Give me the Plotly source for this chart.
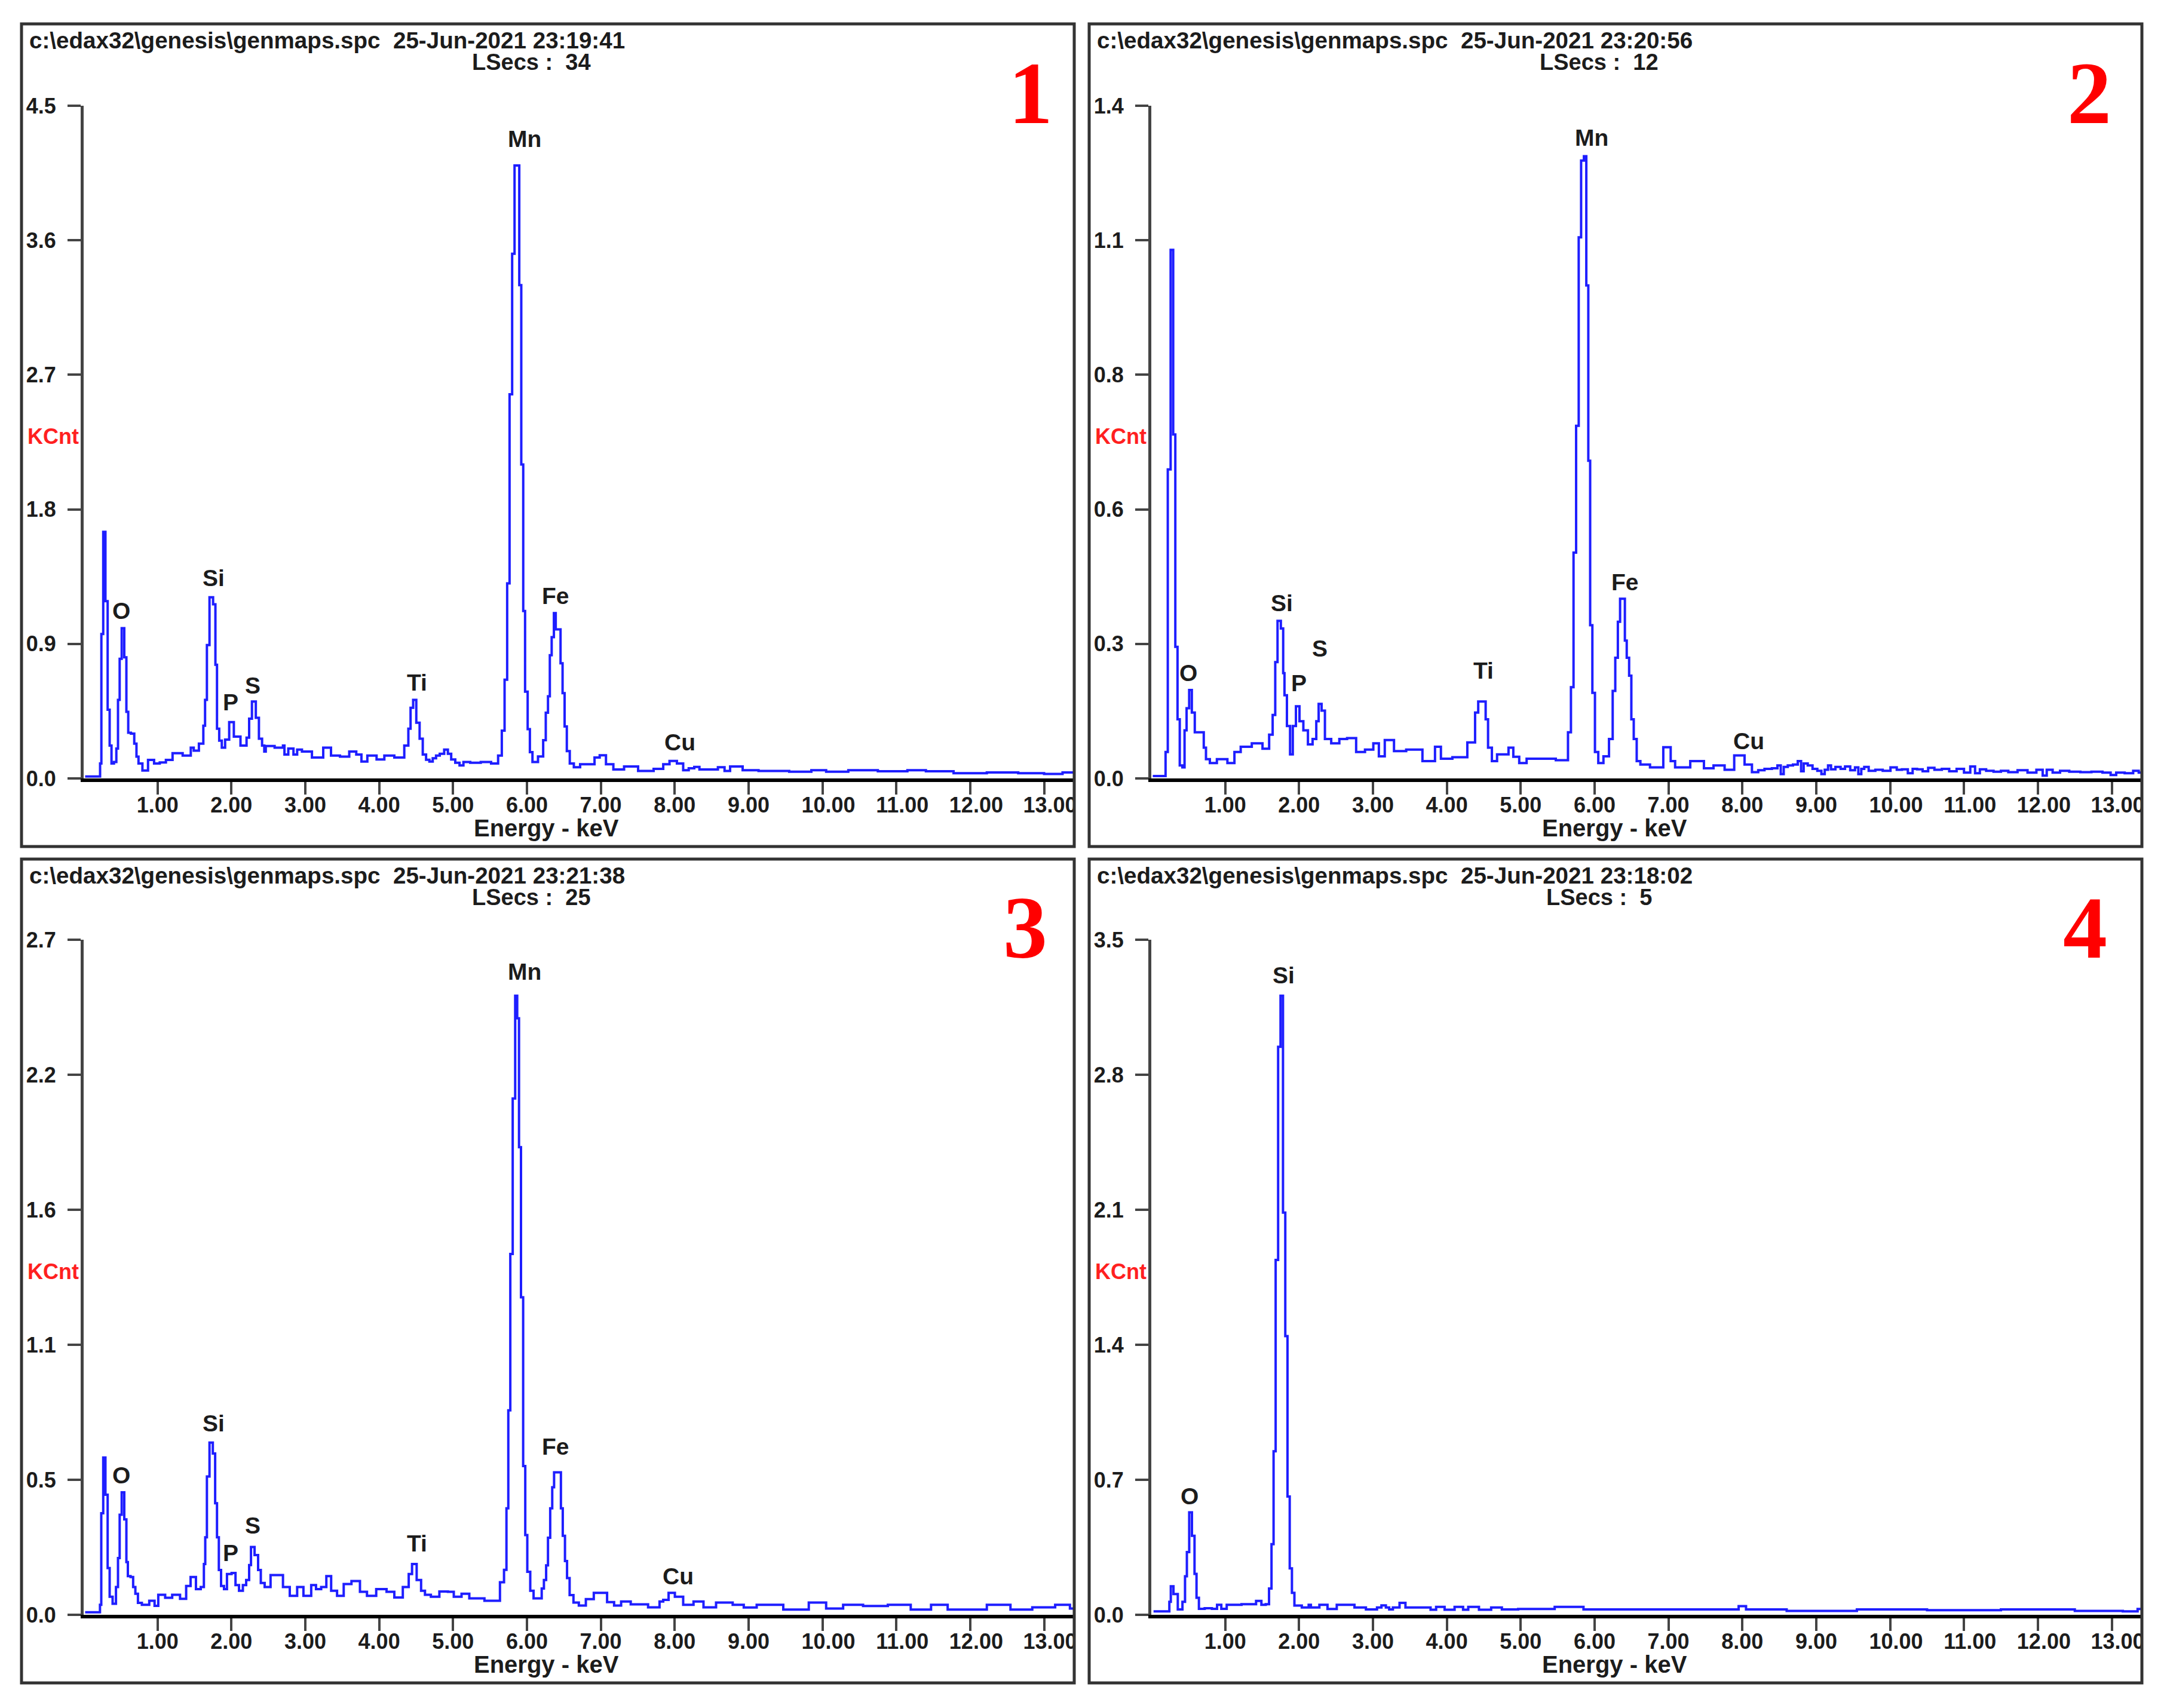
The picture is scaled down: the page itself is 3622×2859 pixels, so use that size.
"""EDS spectra of four map regions (EDAX Genesis screenshots) as a 2x2 panel figure."""

import plotly.graph_objects as go

WIDTH, HEIGHT = 3622, 2859

# Spectrum 1
kev1 = [0.02, 0.215, 0.23, 0.25, 0.28, 0.31, 0.34, 0.364, 0.39, 0.43, 0.455, 0.475, 0.50, 0.53, 0.57, 0.587,
        0.62, 0.66, 0.71, 0.72, 0.765, 0.826, 0.917, 0.99, 1.07, 1.157, 1.25, 1.43, 1.47, 1.51, 1.61, 1.63,
        1.657, 1.68, 1.727, 1.777, 1.79, 1.82, 1.85, 1.89, 1.94, 2.0, 2.066, 2.18, 2.23, 2.25, 2.306, 2.355,
        2.39, 2.44, 2.45, 2.48, 2.69, 2.706, 2.73, 2.81, 2.87, 2.91, 3.0, 3.18, 3.306, 3.39, 3.55, 3.64,
        3.74, 3.78, 3.9, 4.03, 4.11, 4.3, 4.38, 4.41, 4.44, 4.48, 4.525, 4.57, 4.61, 4.66, 4.70, 4.75,
        4.79, 4.85, 4.91, 4.95, 5.0, 5.06, 5.116, 5.165, 5.3, 5.45, 5.58, 5.64, 5.68, 5.715, 5.75, 5.78,
        5.82, 5.845, 5.886, 5.907, 5.94, 5.96, 5.99, 6.03, 6.05, 6.10, 6.2, 6.24, 6.27, 6.30, 6.32, 6.35,
        6.38, 6.40, 6.445, 6.465, 6.50, 6.52, 6.56, 6.60, 6.67, 6.77, 6.90, 6.93, 7.04, 7.10, 7.24, 7.39,
        7.62, 7.81, 7.88, 7.98, 8.08, 8.15, 8.23, 8.30, 8.37, 8.55, 8.62, 8.73, 8.77, 8.87, 8.97, 9.3,
        9.8, 9.9, 10.2, 10.5, 11.0, 11.3, 11.5, 12.05, 12.4, 12.9, 13.1, 13.4]
counts1 = [0.013, 0.013, 0.10, 0.966, 1.65, 1.186, 0.46, 0.22, 0.10, 0.11, 0.20, 0.526, 0.80, 1.005, 0.81, 0.446,
           0.306, 0.30, 0.233, 0.146, 0.10, 0.053, 0.124, 0.10, 0.107, 0.124, 0.169, 0.153, 0.206, 0.186, 0.233, 0.353,
           0.526, 0.892, 1.212, 1.165, 0.76, 0.333, 0.253, 0.206, 0.26, 0.377, 0.28, 0.22, 0.273, 0.40, 0.515, 0.406,
           0.266, 0.22, 0.18, 0.217, 0.206, 0.22, 0.16, 0.2, 0.16, 0.193, 0.18, 0.14, 0.206, 0.153, 0.146, 0.18,
           0.16, 0.113, 0.153, 0.127, 0.153, 0.14, 0.22, 0.333, 0.473, 0.526, 0.373, 0.266, 0.16, 0.125, 0.113, 0.135,
           0.153, 0.165, 0.193, 0.165, 0.127, 0.105, 0.087, 0.11, 0.105, 0.11, 0.10, 0.153, 0.32, 0.66, 1.305, 2.57,
           3.51, 4.1, 4.1, 3.30, 2.10, 1.12, 0.58, 0.33, 0.176, 0.11, 0.147, 0.256, 0.44, 0.55, 0.824, 0.945,
           1.106, 0.997, 0.997, 0.77, 0.57, 0.348, 0.183, 0.10, 0.075, 0.095, 0.095, 0.14, 0.155, 0.095, 0.06, 0.08,
           0.05, 0.064, 0.095, 0.117, 0.10, 0.055, 0.068, 0.077, 0.06, 0.06, 0.075, 0.05, 0.08, 0.08, 0.055, 0.05,
           0.045, 0.055, 0.045, 0.055, 0.048, 0.055, 0.048, 0.035, 0.04, 0.035, 0.03, 0.04]

# Spectrum 2
kev2 = [0.02, 0.18, 0.206, 0.24, 0.283, 0.31, 0.34, 0.37, 0.40, 0.44, 0.46, 0.495, 0.53, 0.567, 0.61, 0.70,
        0.72, 0.76, 0.825, 0.95, 1.11, 1.14, 1.28, 1.44, 1.57, 1.62, 1.665, 1.69, 1.727, 1.78, 1.79, 1.815,
        1.856, 1.90, 1.93, 1.985, 2.026, 2.09, 2.15, 2.216, 2.25, 2.28, 2.33, 2.37, 2.50, 2.59, 2.71, 2.835,
        2.95, 3.06, 3.10, 3.22, 3.35, 3.55, 3.79, 3.89, 3.95, 4.2, 4.355, 4.41, 4.44, 4.515, 4.536, 4.58,
        4.64, 4.72, 4.8, 4.87, 4.93, 5.03, 5.13, 5.33, 5.62, 5.66, 5.70, 5.73, 5.77, 5.80, 5.835, 5.876,
        5.90, 5.93, 5.95, 5.99, 6.02, 6.08, 6.16, 6.23, 6.26, 6.30, 6.33, 6.36, 6.40, 6.42, 6.45, 6.485,
        6.51, 6.55, 6.59, 6.65, 6.85, 7.01, 7.05, 7.13, 7.46, 7.5, 7.72, 7.8, 7.98, 8.08, 8.18, 8.25,
        8.35, 8.45, 8.5, 8.54, 8.58, 8.65, 8.72, 8.78, 8.81, 8.85, 8.92, 8.98, 9.05, 9.09, 9.14, 9.18,
        9.22, 9.3, 9.36, 9.42, 9.5, 9.55, 9.59, 9.63, 9.67, 9.75, 9.85, 9.95, 10.06, 10.12, 10.2, 10.28,
        10.33, 10.4, 10.48, 10.55, 10.65, 10.75, 10.85, 10.95, 11.05, 11.12, 11.18, 11.25, 11.35, 11.45, 11.55, 11.65,
        11.8, 11.92, 12.04, 12.09, 12.15, 12.25, 12.35, 12.5, 12.65, 12.8, 12.95, 13.02, 13.1, 13.25, 13.33, 13.4]
counts2 = [0.005, 0.005, 0.055, 0.643, 1.10, 0.716, 0.274, 0.123, 0.027, 0.023, 0.10, 0.146, 0.184, 0.137, 0.096, 0.096,
           0.064, 0.04, 0.032, 0.04, 0.032, 0.055, 0.066, 0.073, 0.062, 0.091, 0.132, 0.242, 0.328, 0.312, 0.219, 0.173,
           0.109, 0.05, 0.109, 0.15, 0.119, 0.10, 0.071, 0.082, 0.119, 0.155, 0.141, 0.082, 0.073, 0.082, 0.084, 0.055,
           0.06, 0.073, 0.046, 0.08, 0.057, 0.06, 0.036, 0.066, 0.041, 0.044, 0.075, 0.137, 0.16, 0.16, 0.123, 0.064,
           0.036, 0.05, 0.05, 0.064, 0.045, 0.032, 0.041, 0.041, 0.038, 0.096, 0.19, 0.47, 0.734, 1.126, 1.286, 1.295,
           1.026, 0.661, 0.319, 0.178, 0.055, 0.032, 0.046, 0.082, 0.182, 0.251, 0.326, 0.374, 0.374, 0.287, 0.251, 0.214,
           0.123, 0.082, 0.036, 0.029, 0.023, 0.065, 0.036, 0.023, 0.036, 0.021, 0.027, 0.018, 0.048, 0.029, 0.013, 0.017,
           0.02, 0.021, 0.027, 0.009, 0.024, 0.027, 0.029, 0.036, 0.015, 0.031, 0.027, 0.02, 0.016, 0.009, 0.018, 0.027,
           0.019, 0.024, 0.02, 0.025, 0.017, 0.023, 0.009, 0.02, 0.024, 0.016, 0.018, 0.016, 0.023, 0.018, 0.019, 0.011,
           0.02, 0.019, 0.015, 0.022, 0.018, 0.02, 0.015, 0.02, 0.012, 0.025, 0.011, 0.019, 0.016, 0.014, 0.016, 0.013,
           0.017, 0.012, 0.018, 0.006, 0.018, 0.012, 0.016, 0.014, 0.013, 0.014, 0.012, 0.007, 0.012, 0.011, 0.016, 0.012]

# Spectrum 3
kev3 = [0.02, 0.215, 0.227, 0.25, 0.28, 0.31, 0.34, 0.364, 0.42, 0.455, 0.475, 0.50, 0.53, 0.57, 0.587, 0.61,
        0.66, 0.68, 0.72, 0.75, 0.826, 0.95, 0.97, 1.05, 1.157, 1.24, 1.37, 1.405, 1.49, 1.55, 1.62, 1.635,
        1.657, 1.68, 1.727, 1.77, 1.79, 1.82, 1.84, 1.88, 1.92, 1.96, 2.045, 2.066, 2.14, 2.17, 2.23, 2.25,
        2.28, 2.347, 2.376, 2.42, 2.48, 2.58, 2.686, 2.71, 2.87, 2.91, 3.04, 3.12, 3.17, 3.26, 3.31, 3.39,
        3.47, 3.57, 3.68, 3.80, 3.87, 4.05, 4.15, 4.26, 4.38, 4.42, 4.47, 4.545, 4.59, 4.65, 4.75, 4.88,
        4.98, 5.04, 5.19, 5.25, 5.6, 5.67, 5.71, 5.736, 5.76, 5.79, 5.825, 5.857, 5.88, 5.906, 5.933, 5.965,
        5.99, 6.02, 6.07, 6.11, 6.19, 6.21, 6.25, 6.27, 6.30, 6.33, 6.355, 6.38, 6.45, 6.47, 6.50, 6.53,
        6.556, 6.60, 6.66, 6.745, 6.85, 6.96, 7.05, 7.12, 7.24, 7.31, 7.5, 7.78, 7.81, 7.88, 7.955, 8.05,
        8.18, 8.33, 8.45, 8.67, 8.9, 8.97, 9.25, 9.69, 9.94, 10.16, 10.4, 10.7, 11.07, 11.32, 11.62, 11.77,
        12.04, 12.41, 12.68, 13.0, 13.3, 13.4]
counts3 = [0.01, 0.01, 0.04, 0.406, 0.629, 0.48, 0.187, 0.072, 0.044, 0.111, 0.227, 0.40, 0.49, 0.382, 0.211, 0.155,
           0.151, 0.111, 0.084, 0.048, 0.04, 0.056, 0.036, 0.08, 0.068, 0.08, 0.064, 0.115, 0.151, 0.103, 0.111, 0.203,
           0.31, 0.553, 0.689, 0.645, 0.446, 0.31, 0.179, 0.115, 0.103, 0.163, 0.167, 0.119, 0.096, 0.119, 0.139, 0.199,
           0.271, 0.239, 0.179, 0.127, 0.111, 0.159, 0.159, 0.111, 0.076, 0.111, 0.076, 0.119, 0.103, 0.111, 0.155, 0.096,
           0.076, 0.123, 0.135, 0.092, 0.076, 0.103, 0.092, 0.069, 0.111, 0.163, 0.203, 0.139, 0.096, 0.08, 0.072, 0.093,
           0.092, 0.072, 0.084, 0.066, 0.056, 0.13, 0.18, 0.426, 0.818, 1.443, 2.065, 2.476, 2.386, 1.87, 1.27, 0.595,
           0.319, 0.172, 0.096, 0.066, 0.066, 0.105, 0.139, 0.198, 0.308, 0.426, 0.51, 0.57, 0.57, 0.426, 0.316, 0.215,
           0.147, 0.079, 0.049, 0.037, 0.063, 0.088, 0.088, 0.051, 0.037, 0.053, 0.042, 0.03, 0.053, 0.06, 0.088, 0.072,
           0.04, 0.053, 0.03, 0.049, 0.04, 0.029, 0.04, 0.021, 0.049, 0.025, 0.04, 0.035, 0.04, 0.021, 0.04, 0.021,
           0.021, 0.04, 0.021, 0.03, 0.04, 0.025]

# Spectrum 4
kev4 = [0.03, 0.24, 0.248, 0.28, 0.32, 0.397, 0.446, 0.467, 0.496, 0.53, 0.57, 0.60, 0.624, 0.665, 0.78, 0.86,
        0.92, 0.975, 1.066, 1.376, 1.46, 1.52, 1.577, 1.61, 1.644, 1.666, 1.70, 1.733, 1.765, 1.80, 1.827, 1.86,
        1.887, 1.92, 1.954, 2.12, 2.14, 2.18, 2.37, 2.40, 2.62, 2.72, 2.78, 3.03, 3.08, 3.15, 3.2, 3.24, 3.3,
        3.42, 3.46, 3.77, 3.79, 3.92, 4.02, 4.19, 4.25, 4.33, 4.54, 4.66, 4.83, 5.1, 5.82, 5.88, 7.9, 8.0,
        8.1, 9.1, 10.0, 11.0, 12.0, 13.0, 13.3, 13.4]
counts4 = [0.018, 0.018, 0.067, 0.148, 0.108, 0.028, 0.067, 0.20, 0.325, 0.531, 0.41, 0.212, 0.088, 0.031, 0.034, 0.031,
           0.052, 0.031, 0.052, 0.055, 0.072, 0.052, 0.055, 0.136, 0.366, 0.848, 1.84, 2.945, 3.21, 2.085, 1.445, 0.613,
           0.241, 0.114, 0.048, 0.038, 0.052, 0.038, 0.052, 0.03, 0.052, 0.052, 0.038, 0.028, 0.038, 0.049, 0.038, 0.028, 0.038,
           0.062, 0.038, 0.038, 0.026, 0.041, 0.026, 0.041, 0.026, 0.041, 0.026, 0.038, 0.028, 0.03, 0.041, 0.028, 0.028, 0.045,
           0.028, 0.02, 0.028, 0.024, 0.028, 0.02, 0.018, 0.03]

y_max = [4.5, 1.4, 2.7, 3.5]
y_tick_labels = [['0.0', '0.9', '1.8', '2.7', '3.6', '4.5'],
                 ['0.0', '0.3', '0.6', '0.8', '1.1', '1.4'],
                 ['0.0', '0.5', '1.1', '1.6', '2.2', '2.7'],
                 ['0.0', '0.7', '1.4', '2.1', '2.8', '3.5']]
x_ticks = list(range(1, 14))
file_time = ['23:19:41', '23:20:56', '23:21:38', '23:18:02']
live_secs = ['34', '12', '25', '5']
panel_numbers = ['1', '2', '3', '4']

# Element labels per panel: name, energy, height of the label centre
peak_labels = [
    [('Mn', 5.97, 4.28), ('O', 0.51, 1.12), ('Si', 1.76, 1.34), ('P', 1.99, 0.51), ('S', 2.29, 0.62),
     ('Ti', 4.51, 0.64), ('Fe', 6.39, 1.22), ('Cu', 8.07, 0.24)],
    [('Mn', 5.96, 1.333), ('O', 0.505, 0.219), ('Si', 1.77, 0.365), ('P', 2.0, 0.198), ('S', 2.28, 0.27),
     ('Ti', 4.5, 0.224), ('Fe', 6.41, 0.408), ('Cu', 8.09, 0.078)],
    [('Mn', 5.97, 2.571), ('O', 0.51, 0.559), ('Si', 1.76, 0.766), ('P', 1.99, 0.248), ('S', 2.29, 0.358),
     ('Ti', 4.51, 0.286), ('Fe', 6.39, 0.673), ('Cu', 8.05, 0.155)],
    [('Si', 1.79, 3.317), ('O', 0.52, 0.616)],
]

spectra = [(kev1, counts1), (kev2, counts2), (kev3, counts3), (kev4, counts4)]

# Panel geometry in screenshot pixels: outer frame and plot area
frames = [(36, 40, 1798, 1417), (1823, 40, 3585, 1417), (36, 1438, 1798, 2817), (1823, 1438, 3585, 2817)]
plots = [(140, 177, 1797, 1303), (1927, 177, 3584, 1303), (140, 1573, 1797, 2703), (1927, 1573, 3584, 2703)]
number_pos = [(1725, 156), (3497, 156), (1716, 1553), (3490, 1553)]

FONT = 'Liberation Sans'
TEXT_COLOR = '#1c1c1c'
BLUE = '#1e1eff'
BODY_MARGIN = 8  # the page puts the figure 8px in from the corner


def px(x):
    return (x - BODY_MARGIN) / WIDTH


def py(y):
    return 1 - (y - BODY_MARGIN) / HEIGHT


def note(x, y, text, size=38, color=TEXT_COLOR, anchor='left', family=FONT):
    return dict(xref='paper', yref='paper', x=px(x), y=py(y), text=text, showarrow=False,
                xanchor=anchor, yanchor='middle', align=anchor,
                font=dict(family=family, size=size, color=color, weight='bold'))


# Two-digit labels sit a little right of their tick in the original, hence the padding
x_tick_text = [f'{t}.00' if t < 10 else f'\u00a0\u00a0{t}.00' for t in x_ticks]

fig = go.Figure()
annotations, shapes = [], []

for i, (kev, counts) in enumerate(spectra):
    n = '' if i == 0 else str(i + 1)
    left, top, right, bottom = plots[i]
    fig.add_trace(go.Scatter(x=kev, y=counts, mode='lines', xaxis=f'x{n}', yaxis=f'y{n}',
                             line=dict(color=BLUE, width=4, shape='hvh'), showlegend=False))

    fig.update_layout({
        f'xaxis{n}': dict(domain=[px(left), px(right)], range=[0, 13.4], anchor=f'y{n}',
                          tickmode='array', tickvals=x_ticks, ticktext=x_tick_text,
                          ticks='outside', ticklen=21, tickwidth=4, tickcolor='#444444',
                          ticklabelstandoff=-13,
                          showgrid=False, zeroline=False, showline=True, linecolor='#000000', linewidth=6,
                          tickfont=dict(family=FONT, size=36, color=TEXT_COLOR, weight='bold')),
        f'yaxis{n}': dict(domain=[py(bottom), py(top)], range=[0, y_max[i]], anchor=f'x{n}',
                          tickmode='array', tickvals=[y_max[i] * k / 5 for k in range(6)],
                          ticktext=y_tick_labels[i], ticklabelstandoff=12,
                          ticks='outside', ticklen=22, tickwidth=4, tickcolor='#444444',
                          showgrid=False, zeroline=False, showline=True, linecolor='#444444', linewidth=5,
                          tickfont=dict(family=FONT, size=36, color=TEXT_COLOR, weight='bold')),
    })

    # Frame around the panel, plus a strip that cuts the 13.00 label off at the frame like the original
    f_left, f_top, f_right, f_bottom = frames[i]
    shapes.append(dict(type='rect', xref='paper', yref='paper', x0=px(f_right), x1=px(f_right + 22),
                       y0=py(f_bottom), y1=py(f_top), fillcolor='white', line_width=0, layer='above'))
    shapes.append(dict(type='rect', xref='paper', yref='paper', x0=px(f_left), x1=px(f_right),
                       y0=py(f_bottom), y1=py(f_top), line=dict(color='#333333', width=5), layer='above'))

    header = f'c:\\edax32\\genesis\\genmaps.spc  25-Jun-2021 {file_time[i]}'
    annotations.append(note(f_left + 11, f_top + 27, header, size=38.6))
    annotations.append(note(f_left + 853, f_top + 64, f'LSecs :  {live_secs[i]}', anchor='center'))
    annotations.append(note(f_left + 8, (top + bottom) / 2 - 10, 'KCnt', size=36, color='#ff2020'))
    annotations.append(note(f_left + 879, f_bottom - 31, 'Energy - keV', size=40, anchor='center'))
    annotations.append(note(number_pos[i][0], number_pos[i][1], panel_numbers[i], size=148, color='#ff0000',
                            anchor='center', family='Liberation Serif'))
    for name, x, y in peak_labels[i]:
        annotations.append(dict(xref=f'x{n}', yref=f'y{n}', x=x, y=y, text=name, showarrow=False,
                                font=dict(family=FONT, size=39, color=TEXT_COLOR, weight='bold')))

fig.update_layout(width=WIDTH, height=HEIGHT, margin=dict(l=0, r=0, t=0, b=0, autoexpand=False),
                  paper_bgcolor='white', plot_bgcolor='white', annotations=annotations, shapes=shapes)

fig.write_html("out.html")
